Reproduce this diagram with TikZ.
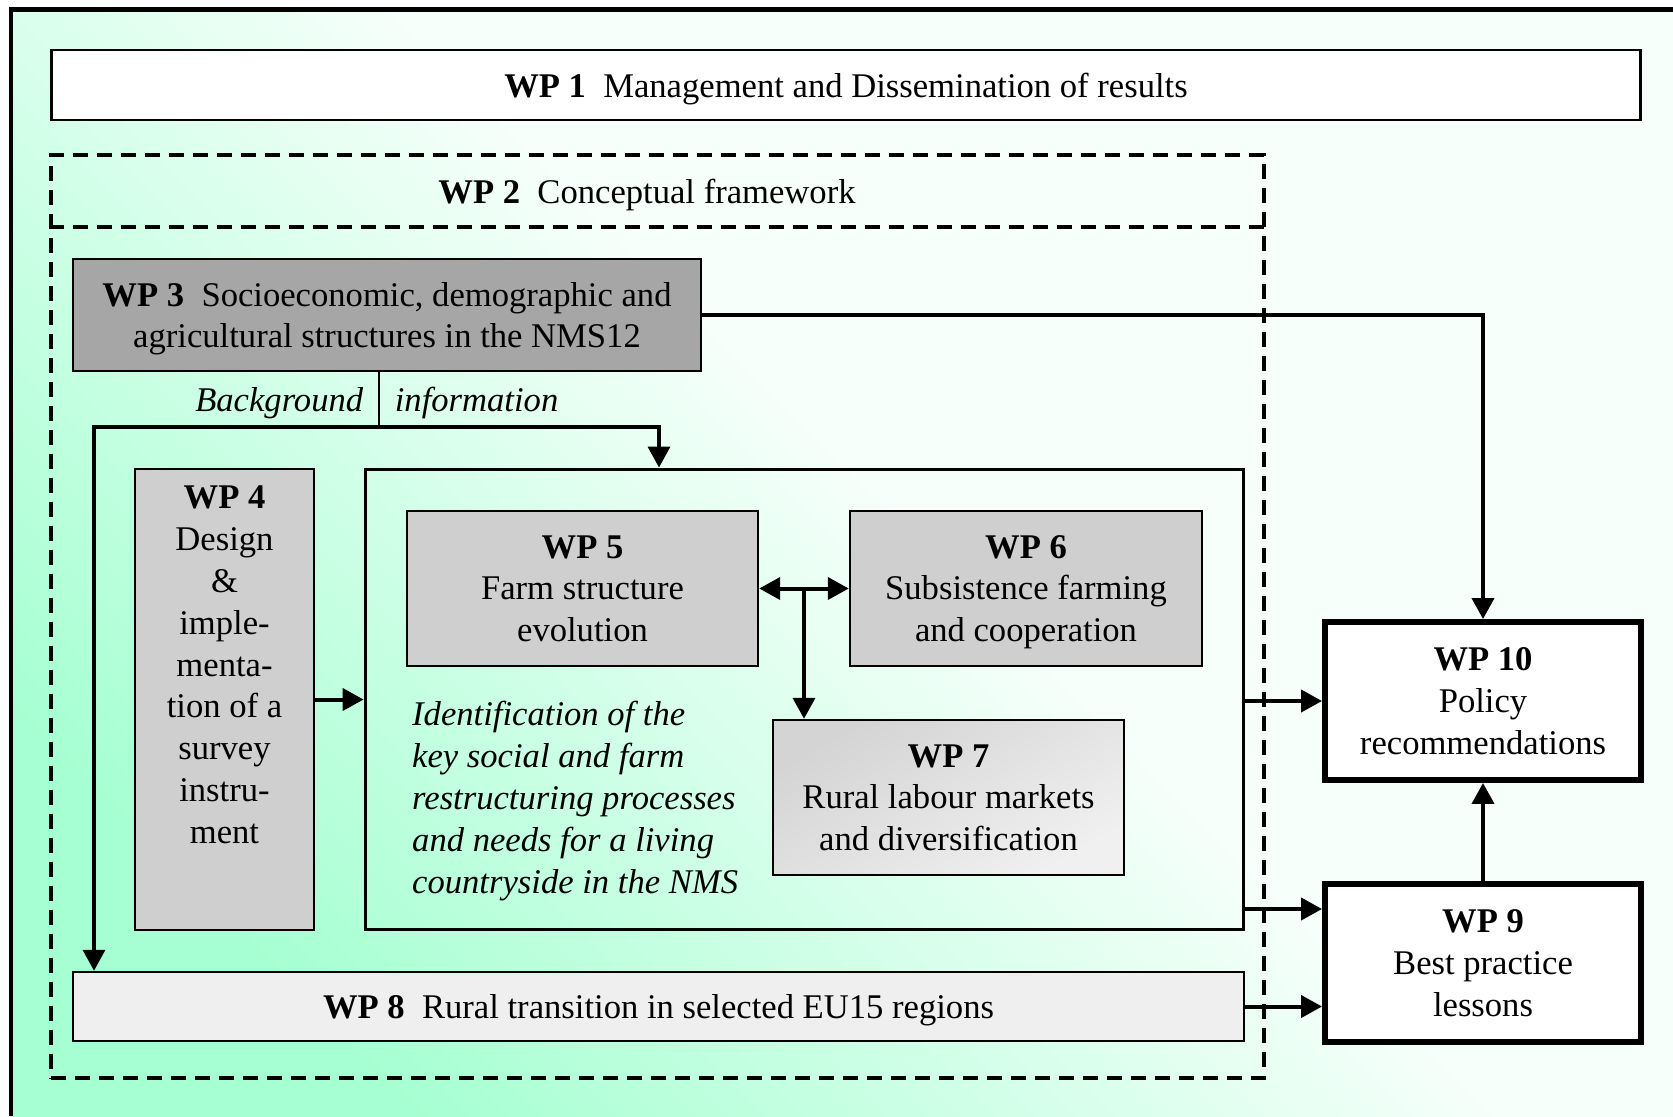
\documentclass[tikz,border=0pt]{standalone}
\usepackage{fontspec}
\setmainfont{Liberation Serif}
\usetikzlibrary{arrows.meta,positioning,calc}
\definecolor{bggreen}{HTML}{A6FFD2}
\definecolor{bgpale}{HTML}{F7FFFB}
\definecolor{wpdark}{HTML}{A6A6A6}
\definecolor{wpgrey}{HTML}{CFCFCF}
\definecolor{wpfade}{HTML}{F0F0F0}
\definecolor{wplight}{HTML}{EFEFEF}
\pgfdeclareverticalshading{wpback}{100bp}{color(0bp)=(bggreen); color(25bp)=(bggreen); color(53bp)=(bgpale); color(100bp)=(bgpale)}
\newcommand{\wpsize}{\fontsize{19.7}{23.8}\selectfont}

\begin{document}
\begin{tikzpicture}[
  x=0.02cm,y=-0.02cm,
  every node/.style={font=\wpsize},
  box/.style={draw,line width=0.05cm,align=center,text depth=0pt},
  wpa/.style={box,fill=wpgrey,minimum width=7.02cm,minimum height=3.1cm},
  result/.style={box,fill=white,line width=0.12cm,minimum width=6.32cm,minimum height=3.16cm},
  note/.style={font=\fontsize{19.7}{23.9}\selectfont\itshape},
  wpframe/.style={line width=0.08cm,dash pattern=on 0.3cm off 0.18cm},
  arr/.style={-{Triangle[length=0.42cm,width=0.44cm]},line width=0.08cm},
  darr/.style={{Triangle[length=0.42cm,width=0.44cm]}-{Triangle[length=0.42cm,width=0.44cm]},line width=0.08cm}
]
\useasboundingbox (0,0) rectangle (1673,1116);
% background and frame
\shade[shading=wpback,shading angle=-45] (11,9.5) rectangle (1673,1116);
\draw[line width=0.09cm] (1673,9.5) -- (11,9.5) -- (11,1116);

% management
\node[box,fill=white,line width=0.055cm,minimum width=31.8cm,minimum height=1.4cm] (wp1) at (846,85) {\textbf{WP 1}\enspace Management and Dissemination of results};

% conceptual framework
\node[draw,wpframe,minimum width=24.26cm,minimum height=18.46cm] (wp2) at (657.5,616.5) {};
\coordinate (wp2rule) at (0,227);
\draw[wpframe] (wp2.west |- wp2rule) -- (wp2.east |- wp2rule);
\node[text depth=0pt] (wp2title) at (647,191) {\textbf{WP 2}\enspace Conceptual framework};

\node[box,fill=wpdark,minimum width=12.56cm,minimum height=2.24cm] (wp3) at (387,315) {\textbf{WP 3}\enspace Socioeconomic, demographic and\\agricultural structures in the NMS12};

% survey and core work packages
\node[box,fill=wpgrey,minimum width=3.58cm,minimum height=9.22cm] (wp4) at (224.5,699.5) {};
\node[anchor=north,align=center] (wp4text) at ([yshift=-0.24cm]wp4.north) {\textbf{WP 4}\\Design\\\&\\imple-\\menta-\\tion of a\\survey\\instru-\\ment};
\node[draw,line width=0.06cm,minimum width=17.58cm,minimum height=9.22cm] (core) at (804.5,699.5) {};
\node[wpa] (wp5) at (582.5,588.5) {\textbf{WP 5}\\Farm structure\\evolution};
\node[wpa,minimum width=7.04cm] (wp6) at (1026,588.5) {\textbf{WP 6}\\Subsistence farming\\and cooperation};
\node[wpa,top color=wpgrey!90!white,bottom color=wpfade,shading angle=30] (wp7) at (948.5,797.5) {\textbf{WP 7}\\Rural labour markets\\and diversification};
\node[note,anchor=west,align=left] (goal) at (406,801) {Identification of the\\key social and farm\\restructuring processes\\and needs for a living\\countryside in the NMS};

\node[box,fill=wplight,minimum width=23.42cm,minimum height=1.38cm] (wp8) at (658.5,1006.5) {\textbf{WP 8}\enspace Rural transition in selected EU15 regions};

% outputs
\node[result] (wp10) at (1483,701) {\textbf{WP 10}\\Policy\\recommendations};
\node[result] (wp9) at (1483,963) {\textbf{WP 9}\\Best practice\\lessons};

% background information
\coordinate (split) at (379,427);
\coordinate (bgleft) at (94,427);
\coordinate (bgright) at (659,427);
\node[note,anchor=east,inner xsep=0.31cm] (bgtext) at (379,403) {Background};
\node[note,anchor=west,inner xsep=0.31cm] (infotext) at (379,403) {information};
\draw[line width=0.04cm] (split |- wp3.south) -- (split);
\draw[arr,line width=0.07cm] (split) -| (bgleft |- wp8.north);
\draw[arr,line width=0.07cm] (split) -| (bgright |- core.north);

\draw[arr] (wp3.east) -| (wp10.north);
\draw[arr] (wp4.east) -- (core.west);
\draw[darr] (wp5.east) -- (wp6.west);
\coordinate (fork) at ($(wp5.east)!0.5!(wp6.west)$);
\draw[arr] (fork) -- (fork |- wp7.north);
\draw[arr] (wp10.west -| core.east) -- (wp10.west);
\coordinate (corelow) at (1244,909);
\draw[arr] (corelow) -- (corelow -| wp9.west);
\draw[arr] (wp8.east) -- (wp8.east -| wp9.west);
\draw[arr] (wp9.north) -- (wp10.south);
\end{tikzpicture}
\end{document}
